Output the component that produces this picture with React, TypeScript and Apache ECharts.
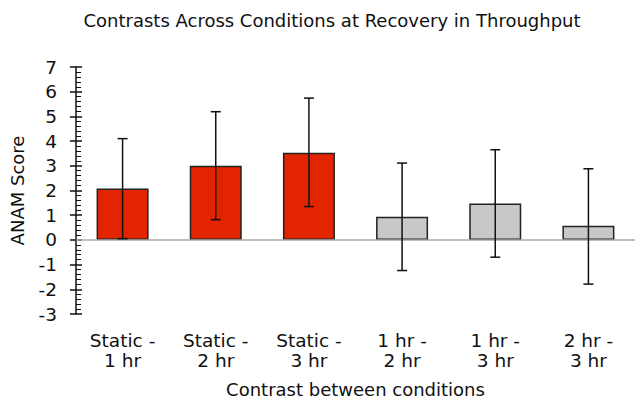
import React, { useEffect, useRef } from "react";
import * as echarts from "echarts";

const categories = ["Static -\n1 hr", "Static -\n2 hr", "Static -\n3 hr", "1 hr -\n2 hr", "1 hr -\n3 hr", "2 hr -\n3 hr"];
const values = [2.08, 3.0, 3.53, 0.94, 1.47, 0.57];
const errLow = [0.05, 0.82, 1.35, -1.24, -0.7, -1.79];
const errHigh = [4.1, 5.19, 5.74, 3.11, 3.65, 2.88];
const barColors = ["#e32400", "#e32400", "#e32400", "#c8c8c8", "#c8c8c8", "#c8c8c8"];

const FONT = "DejaVu Sans";

export default function App() {
  const ref = useRef<HTMLDivElement>(null);
  useEffect(() => {
    if (!ref.current) return;
    const chart = echarts.init(ref.current, undefined, { renderer: "svg" });
    const errData = categories.map((_, i) => [i, errLow[i], errHigh[i]]);
    chart.setOption({
      animation: false,
      title: {
        text: "Contrasts Across Conditions at Recovery in Throughput",
        left: 327,
        textAlign: "center",
        top: 6,
        textStyle: { fontFamily: FONT, fontSize: 18, fontWeight: "normal", color: "#111" },
      },
      grid: { left: 76, right: -1, top: 67, bottom: 85, containLabel: false },
      xAxis: {
        type: "category",
        data: categories,
        axisLine: { show: false, onZero: false },
        axisTick: { show: false },
        axisLabel: {
          fontFamily: FONT,
          fontSize: 18.5,
          color: "#111",
          lineHeight: 20,
          margin: 16,
          interval: 0,
        },
        name: "Contrast between conditions",
        nameLocation: "middle",
        nameGap: 66,
        nameTextStyle: { fontFamily: FONT, fontSize: 18, color: "#111" },
      },
      yAxis: [
        {
          type: "value",
          min: -3,
          max: 7,
          interval: 1,
          axisLine: { show: true, lineStyle: { color: "#111", width: 1.5 } },
          axisTick: { show: true, inside: true, length: 6, lineStyle: { color: "#111", width: 1.5 } },
          minorTick: { show: true, splitNumber: 5, length: 5, lineStyle: { color: "#111", width: 1 } },
          splitLine: { show: false },
          axisLabel: { fontFamily: FONT, fontSize: 18.5, color: "#111", margin: 19 },
          name: "ANAM Score",
          nameLocation: "middle",
          nameGap: 50,
          nameTextStyle: { fontFamily: FONT, fontSize: 18, color: "#111" },
        },
        {
          type: "value",
          position: "left",
          min: -3,
          max: 7,
          interval: 1,
          axisLine: { show: false },
          axisTick: { show: true, inside: false, length: 6, lineStyle: { color: "#111", width: 1.5 } },
          splitLine: { show: false },
          axisLabel: { show: false },
        },
      ],
      series: [
        {
          type: "bar",
          data: values.map((v, i) => ({ value: v, itemStyle: { color: barColors[i] } })),
          barWidth: 52,
          itemStyle: { borderColor: "#222", borderWidth: 1.5 },
          markLine: {
            silent: true,
            symbol: "none",
            label: { show: false },
            lineStyle: { color: "#aaaaaa", width: 1.5, type: "solid" },
            data: [{ yAxis: 0 }],
          },
        },
        {
          type: "custom",
          data: errData,
          z: 5,
          renderItem: (params: any, api: any) => {
            const x = api.value(0);
            const lo = api.coord([x, api.value(1)]);
            const hi = api.coord([x, api.value(2)]);
            const cap = 5;
            const style = { stroke: "#111", lineWidth: 1.5 };
            return {
              type: "group",
              children: [
                { type: "line", shape: { x1: hi[0], y1: hi[1], x2: lo[0], y2: lo[1] }, style },
                { type: "line", shape: { x1: hi[0] - cap, y1: hi[1], x2: hi[0] + cap, y2: hi[1] }, style },
                { type: "line", shape: { x1: lo[0] - cap, y1: lo[1], x2: lo[0] + cap, y2: lo[1] }, style },
              ],
            };
          },
        },
      ],
    });
    return () => chart.dispose();
  }, []);
  return <div ref={ref} style={{ width: 635, height: 403, position: "absolute", left: 0, top: 0 }} />;
}
